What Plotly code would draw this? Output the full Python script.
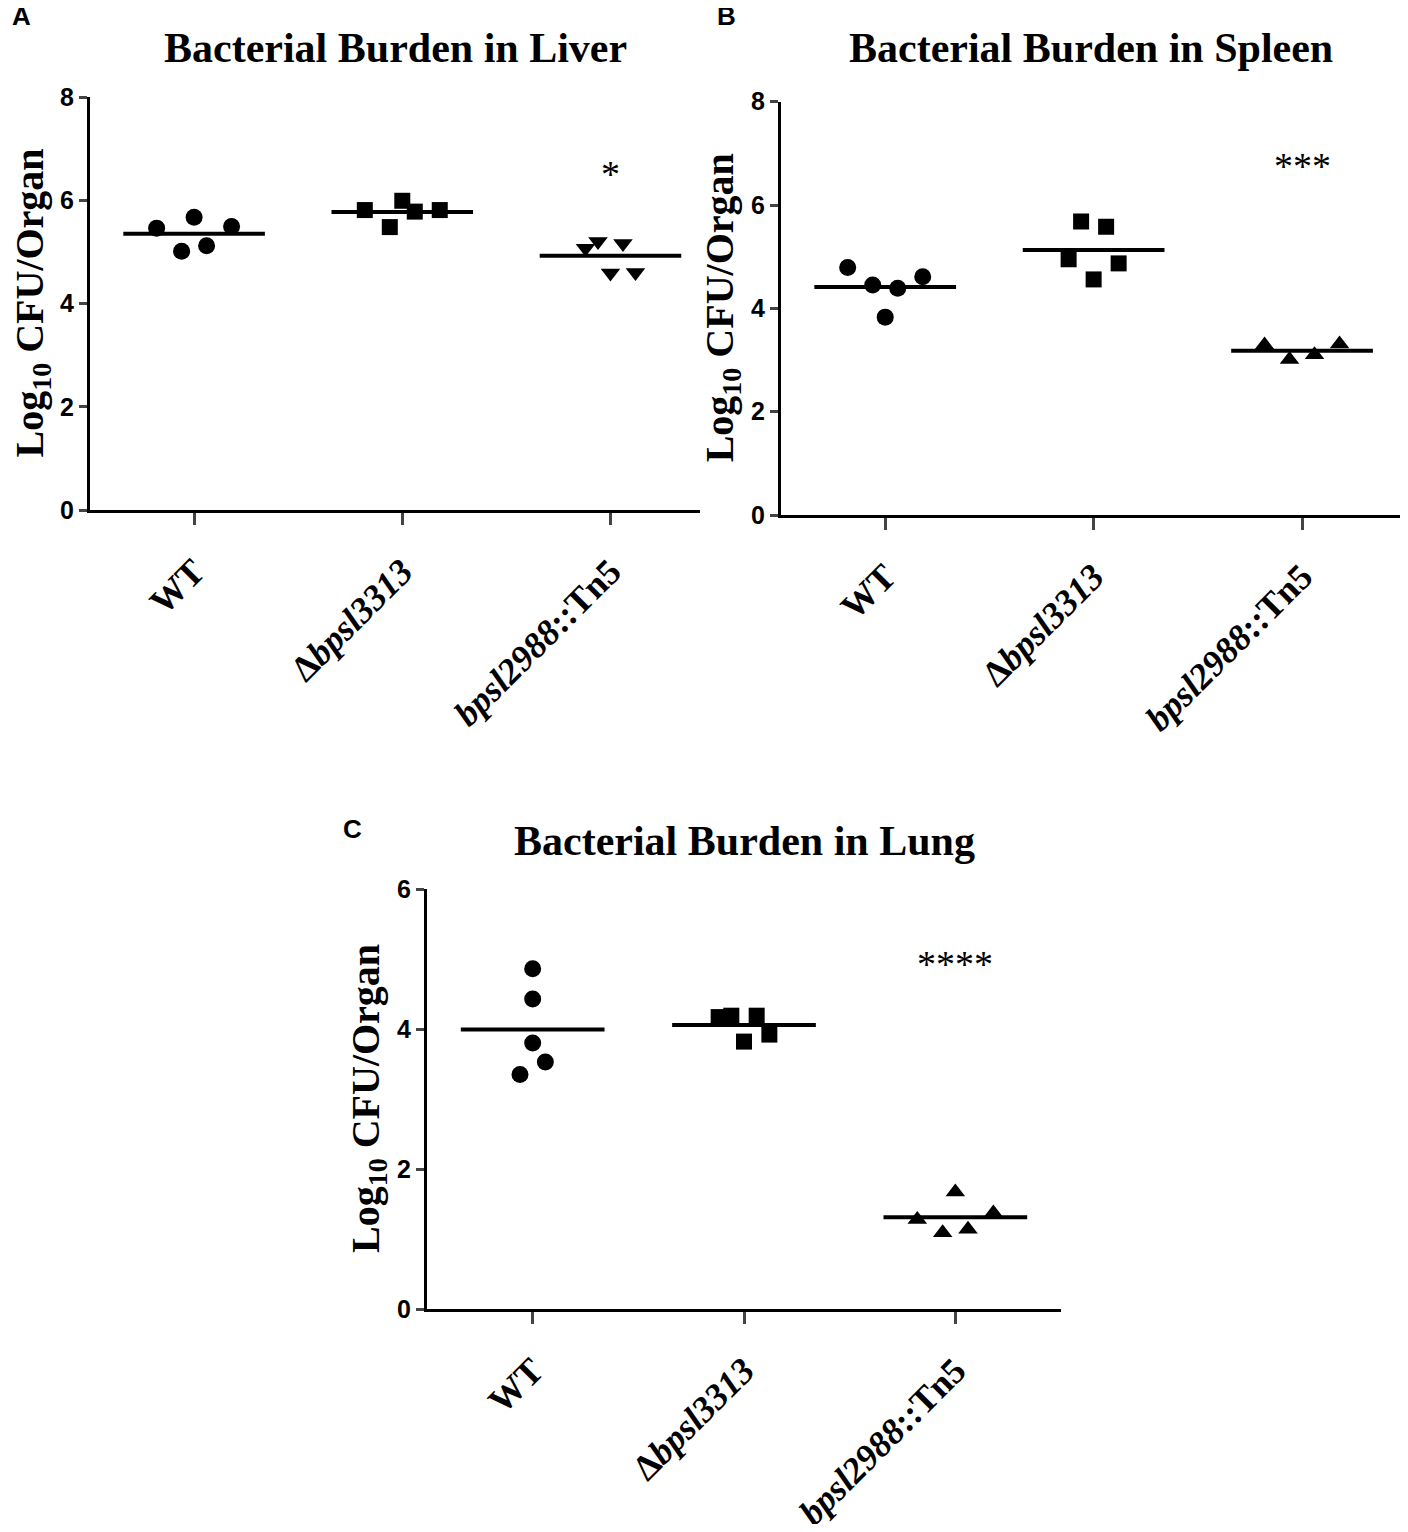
import numpy as np
import plotly.graph_objects as go

# groups on the x axis
groups = ["WT", "Δbpsl3313", "bpsl2988::Tn5"]
group_ticks = ["<b>WT</b>", "<b>Δ<i>bpsl3313</i></b>", "<b><i>bpsl2988</i>::Tn5</b>"]

# log10 CFU per organ
liver_wt = [5.46, 5.01, 5.67, 5.12, 5.49]
liver_del = [5.81, 5.48, 5.99, 5.78, 5.81]
liver_tn5 = [5.07, 5.20, 4.59, 5.16, 4.60]

spleen_wt = [4.79, 4.45, 3.83, 4.39, 4.61]
spleen_del = [4.95, 5.68, 4.56, 5.58, 4.87]
spleen_tn5 = [3.29, 3.01, 3.10, 3.31]

lung_wt = [4.86, 4.43, 3.80, 3.53, 3.35]
lung_del = [4.17, 4.19, 3.82, 4.19, 3.92]
lung_tn5 = [1.28, 1.09, 1.67, 1.14, 1.37]

# significance labels and the height they sit at
stars = ["*", "***", "****"]
star_y = [6.62, 6.87, 5.02]

# page is 1408x1532; the html body adds an 8px margin around the plot div
OX, OY = 8, 8
W, H = 1392, 1516


def px(X):
    return (X - OX) / W


def py(Y):
    return 1 - (Y - OY) / H


# scatter spread used by the dot plot (GraphPad style)
SPREAD5 = [-0.18, -0.06, 0, 0.06, 0.18]
SPREAD5N = [-0.12, -0.06, 0, 0.06, 0.12]
SPREAD4 = [-0.18, -0.06, 0.06, 0.18]
SPREAD_COL = [0, 0, 0, 0.06, -0.06]

panels = [
    dict(data=[liver_wt, liver_del, liver_tn5], spread=[SPREAD5, SPREAD5, SPREAD5N],
         sym=["circle", "square", "triangle-down"], title="Bacterial Burden in Liver",
         letter="A", lpos=(21, 16), tpos=48,
         xpx=(90, 700), ypx=(97, 510), xr=[-0.5, 2.43], yr=[0, 8]),
    dict(data=[spleen_wt, spleen_del, spleen_tn5], spread=[SPREAD5, SPREAD5N, SPREAD4],
         sym=["circle", "square", "triangle-up"], title="Bacterial Burden in Spleen",
         letter="B", lpos=(726, 16), tpos=48,
         xpx=(781, 1400), ypx=(101.7, 515), xr=[-0.5, 2.47], yr=[0, 8]),
    dict(data=[lung_wt, lung_del, lung_tn5], spread=[SPREAD_COL, SPREAD5N, SPREAD5],
         sym=["circle", "square", "triangle-up"], title="Bacterial Burden in Lung",
         letter="C", lpos=(352, 829), tpos=841,
         xpx=(427, 1061), ypx=(889, 1309), xr=[-0.5, 2.5], yr=[0, 6]),
]

fig = go.Figure()
annotations = []
layout = {}

for k, p in enumerate(panels):
    n = "" if k == 0 else str(k + 1)
    xa, ya = "x" + n, "y" + n
    for g, vals in enumerate(p["data"]):
        xs = [g + s for s in p["spread"][g]]
        fig.add_trace(go.Scatter(
            x=xs, y=vals, mode="markers", xaxis=xa, yaxis=ya,
            marker=dict(symbol=p["sym"][g], size=17 if p["sym"][g] != "square" else 16,
                        color="black"),
            showlegend=False, hoverinfo="y"))
        m = float(np.mean(vals))
        fig.add_trace(go.Scatter(
            x=[g - 0.34, g + 0.34], y=[m, m], mode="lines", xaxis=xa, yaxis=ya,
            line=dict(color="black", width=4), showlegend=False, hoverinfo="skip"))

    x0, x1 = p["xpx"]
    y0, y1 = p["ypx"]
    layout["xaxis" + n] = dict(
        domain=[px(x0), px(x1)], range=p["xr"], anchor=ya, automargin=False,
        tickmode="array", tickvals=[0, 1, 2], ticktext=group_ticks,
        tickangle=-45, ticks="outside", ticklen=12, tickwidth=3,
        ticklabelstandoff=11,
        showline=True, linewidth=3, linecolor="black", showgrid=False, zeroline=False,
        tickfont=dict(family="Liberation Serif", size=36, color="black"))
    layout["yaxis" + n] = dict(
        domain=[py(y1), py(y0)], range=p["yr"], anchor=xa, dtick=2, automargin=False,
        ticks="outside", ticklen=8, tickwidth=3,
        showline=True, linewidth=3, linecolor="black", showgrid=False, zeroline=False,
        tickfont=dict(family="Liberation Sans", size=25, color="black", weight="bold"))

    # title
    annotations.append(dict(
        text="<b>" + p["title"] + "</b>", xref="paper", yref="paper",
        x=px((x0 + x1) / 2), y=py(p["tpos"]), xanchor="center", yanchor="middle",
        showarrow=False, font=dict(family="Liberation Serif", size=42, color="black")))
    # y title
    annotations.append(dict(
        text="<b>Log<sub>10</sub> CFU/Organ</b>", xref="paper", yref="paper",
        x=px(x0 - 59), y=py((y0 + y1) / 2), xanchor="center", yanchor="middle",
        textangle=-90, showarrow=False,
        font=dict(family="Liberation Serif", size=40, color="black")))
    # panel letter
    annotations.append(dict(
        text="<b>" + p["letter"] + "</b>", xref="paper", yref="paper",
        x=px(p["lpos"][0]), y=py(p["lpos"][1]),
        xanchor="center", yanchor="middle", showarrow=False,
        font=dict(family="Liberation Sans", size=26, color="black")))
    # significance
    annotations.append(dict(
        text=stars[k], xref=xa, yref=ya, x=2, y=star_y[k], yshift=-6,
        xanchor="center", yanchor="middle", showarrow=False,
        font=dict(family="Liberation Serif", size=38, color="black")))

fig.update_layout(
    width=W, height=H, autosize=False,
    margin=dict(l=0, r=0, t=0, b=0, autoexpand=False),
    paper_bgcolor="white", plot_bgcolor="white",
    annotations=annotations, **layout)

fig.write_html("out.html")
